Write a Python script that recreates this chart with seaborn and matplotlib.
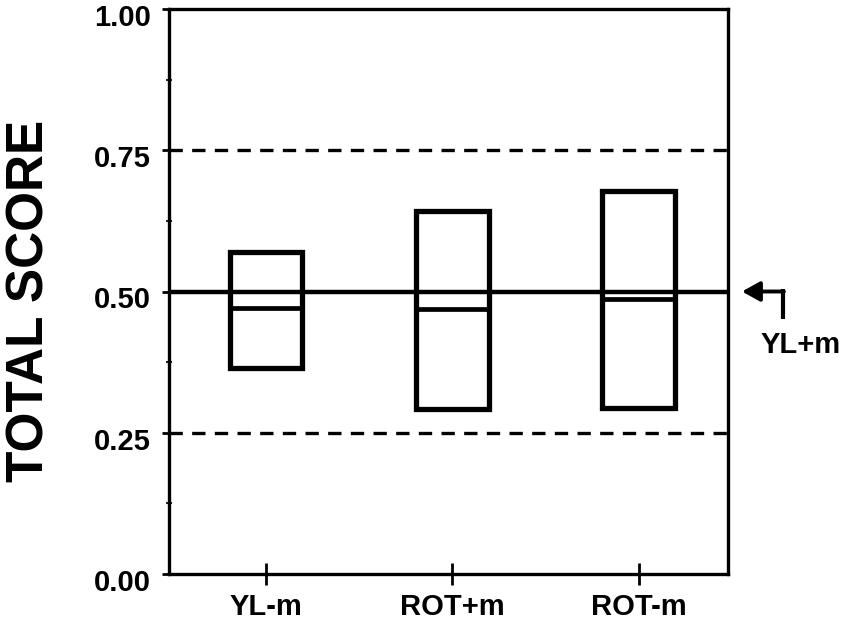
import numpy as np
import pandas as pd
import matplotlib
matplotlib.use("Agg")
import matplotlib.pyplot as plt
import matplotlib.transforms as mtransforms
import seaborn as sns

# ---- data ----
categories = ["YL-m", "ROT+m", "ROT-m"]
box_low = [0.365, 0.292, 0.294]
box_high = [0.570, 0.642, 0.678]
box_median = [0.470, 0.469, 0.486]
reference_level = 0.50          # YL+m
band_levels = [0.25, 0.75]
y_ticks = [0.00, 0.25, 0.50, 0.75, 1.00]
y_tick_labels = ["0.00", "0.25", "0.50", "0.75", "1.00"]
reference_label = "YL+m"
y_title = "TOTAL SCORE"

sns.set_theme(style="white")
plt.rcParams["font.family"] = ["Liberation Sans", "DejaVu Sans"]

fig = plt.figure(figsize=(8.43, 6.29), dpi=100)
ax = fig.add_axes([169 / 843, 55 / 629, 559 / 843, 565 / 629])

df = pd.DataFrame({"cat": categories,
                   "height": np.array(box_high) - np.array(box_low),
                   "low": box_low})
box_w = 0.39
try:
    sns.barplot(data=df, x="cat", y="height", bottom=list(box_low), width=box_w,
                color="black", fill=False, linewidth=3.8, ax=ax, errorbar=None)
except Exception:
    ax.cla()
    sns.pointplot(data=df, x="cat", y="low", ax=ax, markers="", linestyles="none",
                  errorbar=None)
    ax.bar(np.arange(len(categories)), df["height"], bottom=df["low"], width=box_w,
           fill=False, edgecolor="black", linewidth=3.8)

for p in ax.patches:
    p.set_edgecolor("black")
    p.set_facecolor("none")
    p.set_linewidth(3.8)

xs = np.arange(len(categories))
ax.hlines(box_median, xs - box_w / 2, xs + box_w / 2, color="black", lw=3.4)

ax.axhline(reference_level, color="black", lw=3.2)
for lv in band_levels:
    ax.axhline(lv, color="black", lw=2.4, linestyle=(0, (4.0, 2.8)))

ax.set_xlim(-0.52, 2.48)
ax.set_ylim(0, 1)
ax.set_yticks(y_ticks)
ax.set_yticklabels(y_tick_labels)
ax.set_yticks([0.125, 0.375, 0.625, 0.875], minor=True)
ax.set_xlabel("")
ax.set_ylabel("")

for s in ax.spines.values():
    s.set_visible(True)
    s.set_color("black")
    s.set_linewidth(2.4)

ax.tick_params(axis="y", which="major", direction="out", length=5, width=2,
               labelsize=21, pad=8, left=True, colors="black")
ax.tick_params(axis="y", which="minor", direction="inout", length=4, width=1.5,
               left=True)
ax.tick_params(axis="x", direction="inout", length=16, width=2,
               labelsize=21, pad=6, bottom=True, colors="black")

shift = mtransforms.ScaledTranslation(0, -6 / 100, fig.dpi_scale_trans)
for lab in ax.get_yticklabels():
    lab.set_transform(lab.get_transform() + shift)
    lab.set_fontweight("bold")
for lab in ax.get_xticklabels():
    lab.set_fontweight("bold")

# YL+m pointer
ax.annotate("", xy=(2.555, reference_level), xytext=(2.78, reference_level),
            arrowprops=dict(arrowstyle="-|>,head_length=0.9,head_width=0.5",
                            color="black", lw=2.8, shrinkA=0, shrinkB=0),
            annotation_clip=False)
ax.plot([2.775, 2.775], [reference_level + 0.004, 0.452], color="black", lw=3.0,
        clip_on=False, solid_capstyle="butt")
ax.text(2.87, 0.405, reference_label, fontsize=21, fontweight="bold",
        ha="center", va="center", color="black", clip_on=False)

fig.text(30 / 843, 1 - 301 / 629, y_title, rotation=90, fontsize=37,
         fontweight="bold", ha="center", va="center", color="black")

fig.savefig("out.png", dpi=100, facecolor="white")
